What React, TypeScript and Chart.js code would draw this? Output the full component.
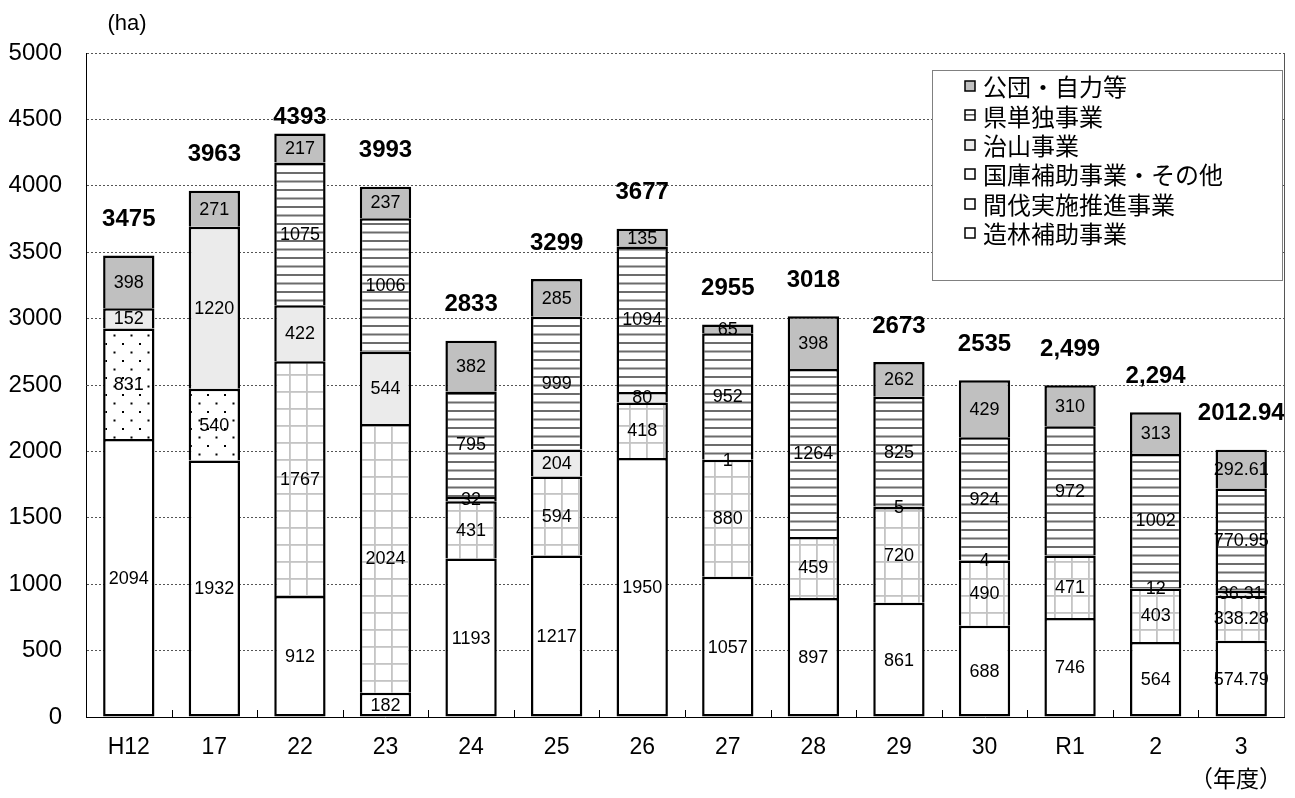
import React, { useEffect, useRef } from "react";
import { Chart, registerables } from "chart.js";

Chart.register(...registerables);

// ---- data ----
const categories = ["H12", "17", "22", "23", "24", "25", "26", "27", "28", "29", "30", "R1", "2", "3"];
const zourin = [2094, 1932, 912, 182, 1193, 1217, 1950, 1057, 897, 861, 688, 746, 564, 574.79];
const kanbatsu = [null, null, 1767, 2024, 431, 594, 418, 880, 459, 720, 490, 471, 403, 338.28];
const kokko = [831, 540, null, null, null, null, null, null, null, null, null, null, null, null];
const chisan = [152, 1220, 422, 544, 32, 204, 80, 1, null, 5, 4, null, 12, 36.31];
const kentan = [null, null, 1075, 1006, 795, 999, 1094, 952, 1264, 825, 924, 972, 1002, 770.95];
const kodan = [398, 271, 217, 237, 382, 285, 135, 65, 398, 262, 429, 310, 313, 292.61];
const totalLabels = ["3475", "3963", "4393", "3993", "2833", "3299", "3677", "2955", "3018", "2673", "2535", "2,499", "2,294", "2012.94"];
const yTicks = [0, 500, 1000, 1500, 2000, 2500, 3000, 3500, 4000, 4500, 5000];
const legendNames = ["公団・自力等", "県単独事業", "治山事業", "国庫補助事業・その他", "間伐実施推進事業", "造林補助事業"];

const NUM = '"Liberation Sans", Arial, sans-serif';
const JP = '"Noto Sans CJK JP", "Noto Sans", sans-serif';

function makePattern(kind: string): CanvasPattern | string {
  const c = document.createElement("canvas");
  const g = c.getContext("2d")!;
  if (kind === "grid") {
    c.width = 17; c.height = 17;
    g.fillStyle = "#fff"; g.fillRect(0, 0, 17, 17);
    g.fillStyle = "#c4c4c4";
    g.fillRect(0, 0, 17, 1.8);
    g.fillRect(0, 0, 1.8, 17);
  } else if (kind === "dots") {
    c.width = 17; c.height = 17;
    g.fillStyle = "#fff"; g.fillRect(0, 0, 17, 17);
    g.fillStyle = "#000";
    g.fillRect(3, 3, 2, 2);
    g.fillRect(11.5, 11.5, 2, 2);
  } else if (kind === "stripes") {
    c.width = 8; c.height = 17;
    g.fillStyle = "#fff"; g.fillRect(0, 0, 8, 17);
    g.fillStyle = "#6c6c6c";
    g.fillRect(0, 2, 8, 2);
    g.fillRect(0, 10.5, 8, 2);
  }
  const p = g.createPattern(c, "repeat");
  return p || "#fff";
}

const overlayPlugin = {
  id: "overlay",
  afterDatasetsDraw(chart: any) {
    const ctx = chart.ctx as CanvasRenderingContext2D;
    const area = chart.chartArea;
    const yScale = chart.scales.y;
    ctx.save();
    // segment labels
    ctx.font = `18px ${NUM}`;
    ctx.fillStyle = "#000";
    ctx.textAlign = "center";
    ctx.textBaseline = "middle";
    chart.data.datasets.forEach((ds: any, di: number) => {
      const meta = chart.getDatasetMeta(di);
      meta.data.forEach((el: any, i: number) => {
        const v = ds.data[i];
        if (v == null) return;
        const p = el.getProps(["x", "y", "base"], true);
        ctx.fillText(String(v), p.x, (p.y + p.base) / 2 + 1);
      });
    });
    // totals
    ctx.font = `bold 24px ${NUM}`;
    const meta0 = chart.getDatasetMeta(0);
    categories.forEach((_, i) => {
      let sum = 0;
      chart.data.datasets.forEach((ds: any) => {
        const v = ds.data[i];
        if (v != null) sum += v;
      });
      const top = yScale.getPixelForValue(sum);
      const x = meta0.data[i].x;
      const y = Math.max(top - 36, area.top + 64);
      ctx.fillText(totalLabels[i], x, y);
    });
    // inner tick marks on x axis
    const w = (area.right - area.left) / categories.length;
    ctx.strokeStyle = "#000";
    ctx.lineWidth = 1;
    for (let i = 1; i < categories.length; i++) {
      const x = Math.round(area.left + i * w) + 0.5;
      ctx.beginPath();
      ctx.moveTo(x, area.bottom);
      ctx.lineTo(x, area.bottom - 7);
      ctx.stroke();
    }
    // right border
    ctx.strokeStyle = "#555";
    ctx.beginPath();
    ctx.moveTo(Math.round(area.right) + 0.5, area.top);
    ctx.lineTo(Math.round(area.right) + 0.5, area.bottom);
    ctx.stroke();
    ctx.restore();
  },
  afterDraw(chart: any) {
    const ctx = chart.ctx as CanvasRenderingContext2D;
    ctx.save();
    // legend box
    ctx.fillStyle = "#fff";
    ctx.fillRect(933, 70, 350, 211);
    ctx.strokeStyle = "#808080";
    ctx.lineWidth = 1;
    ctx.strokeRect(932.5, 70.5, 350, 210);
    const fills = ["#c0c0c0", "stripe", "#ebebeb", "#ffffff", "#ffffff", "#ffffff"];
    legendNames.forEach((name, i) => {
      const cy = 86 + i * 29.4;
      const sx = 965, sy = Math.round(cy - 5);
      const f = fills[i];
      ctx.fillStyle = f === "stripe" ? "#fff" : f;
      ctx.fillRect(sx, sy, 10, 10);
      if (f === "stripe") {
        ctx.fillStyle = "#555";
        ctx.fillRect(sx, sy + 4, 10, 1.5);
      }
      ctx.strokeStyle = "#000";
      ctx.lineWidth = 1.5;
      ctx.strokeRect(sx, sy, 10, 10);
      ctx.fillStyle = "#000";
      ctx.font = `24px ${JP}`;
      ctx.textAlign = "left";
      ctx.textBaseline = "middle";
      ctx.fillText(name, 983, cy + 1);
    });
    // axis titles
    ctx.fillStyle = "#000";
    ctx.textAlign = "center";
    ctx.textBaseline = "middle";
    ctx.font = `22px ${NUM}`;
    ctx.fillText("(ha)", 127, 24);
    ctx.font = `23px ${JP}`;
    ctx.fillText("（年度）", 1236, 778);
    ctx.restore();
  },
};

export default function App() {
  const ref = useRef<HTMLCanvasElement>(null);
  useEffect(() => {
    if (!ref.current) return;
    const gridP = makePattern("grid");
    const dotsP = makePattern("dots");
    const stripeP = makePattern("stripes");
    const inner = { top: 2.5, left: 2.5, right: 2.5, bottom: 0 };
    const bottomB = { top: 2.5, left: 2.5, right: 2.5, bottom: 2.5 };
    const mk = (label: string, data: any[], bg: any, bw: any) => ({
      label,
      data,
      backgroundColor: bg,
      borderColor: "#000",
      borderWidth: bw,
      borderSkipped: false,
      barPercentage: 0.6,
      categoryPercentage: 1,
    });
    const chart = new Chart(ref.current, {
      type: "bar",
      data: {
        labels: categories,
        datasets: [
          mk("造林補助事業", zourin, "#ffffff", bottomB),
          mk("間伐実施推進事業", kanbatsu, gridP, inner),
          mk("国庫補助事業・その他", kokko, dotsP, inner),
          mk("治山事業", chisan, "#ebebeb", inner),
          mk("県単独事業", kentan, stripeP, inner),
          mk("公団・自力等", kodan, "#c0c0c0", inner),
        ] as any,
      },
      options: {
        responsive: false,
        animation: false,
        layout: { padding: { top: 53, right: 11, left: 0, bottom: 0 } },
        plugins: { legend: { display: false }, tooltip: { enabled: false } },
        scales: {
          x: {
            stacked: true,
            grid: { display: false, drawTicks: false },
            border: { display: true, color: "#000", width: 1 },
            ticks: { color: "#000", font: { family: NUM, size: 23 }, padding: 17, maxRotation: 0 },
            afterFit: (s: any) => { s.height = 81; },
          },
          y: {
            stacked: true,
            min: 0,
            max: 5000,
            afterBuildTicks: (s: any) => { s.ticks = yTicks.map((v) => ({ value: v })); },
            grid: { color: "#555", lineWidth: 1, drawTicks: false },
            border: { display: true, color: "#000", width: 1, dash: [2, 2] },
            ticks: { color: "#000", font: { family: NUM, size: 24 }, padding: 24, callback: (v: any) => String(v) },
            afterFit: (s: any) => { s.width = 86; },
          },
        },
      } as any,
      plugins: [overlayPlugin],
    });
    return () => chart.destroy();
  }, []);
  return (
    <div style={{ position: "fixed", left: 0, top: 0, width: 1295, height: 798, background: "#fff" }}>
      <canvas ref={ref} width={1295} height={798} />
    </div>
  );
}
